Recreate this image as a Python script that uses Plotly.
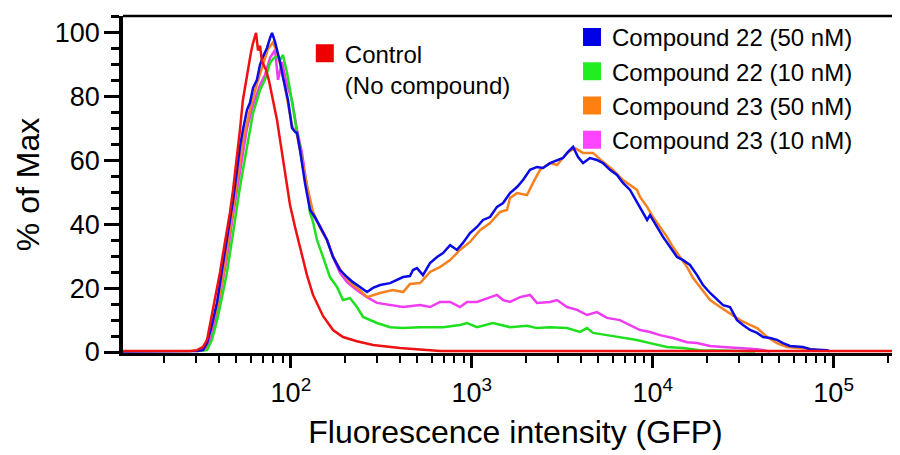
import plotly.graph_objects as go

# ---------------- data (fluorescence intensity, % of max) ----------------
red_x = [11.8, 27.7, 30.3, 32.7, 34.4, 35.7, 37.1, 39.1, 40.6, 42.2,
         44.3, 46.0, 47.9, 50.4, 52.3, 54.3, 56.5, 57.9, 60.2, 61.8,
         64.2, 65.8, 67.5, 69.2, 71.0, 72.8, 75.7, 79.6, 83.8, 87.1,
         91.6, 95.2, 98.9, 105.4, 112.3, 122.7, 132.5, 150.5, 170.9, 194.1,
         231.7, 284.4, 400.9, 587.5, 666.8, 260000]
red_y = [0.3, 0.3, 0.6, 1.6, 3.8, 8.5, 13.8, 19.4, 25.1, 31.0,
         37.6, 43.6, 50.8, 61.1, 69.6, 79.0, 85.3, 89.3, 94.0, 96.9,
         100, 94.5, 96.0, 91.0, 89.5, 88.5, 85.0, 79.0, 72.7, 66.5,
         58.6, 51.7, 46.1, 39.2, 32.6, 24.1, 17.9, 11.3, 6.9, 4.7,
         3.4, 2.2, 1.3, 0.6, 0.3, 0.3]

blue_x = [11.8, 30.3, 32.7, 34.4, 36.6, 39.1, 41.6, 44.3, 47.9, 50.4,
          52.3, 54.3, 57.2, 59.4, 61.8, 64.9, 67.5, 70.1, 73.8, 76.7,
          78.7, 81.7, 83.8, 87.1, 90.4, 96.4, 101.4, 105.4, 108.1, 112.3,
          119.6, 127.6, 135.9, 144.8, 158.4, 170.9, 186.9, 204.2, 220.4, 241.0,
          263.5, 284.4, 311.1, 353.2, 386.4, 416.9, 455.0, 473.2, 497.7, 537.0,
          587.5, 642.7, 693.4, 758.6, 828.2, 893.5, 977.2, 1068, 1153, 1261,
          1378, 1489, 1626, 1778, 1919, 2098, 2291, 2475, 2705, 2958,
          3192, 3404, 3629, 3865, 4121, 4498, 4918, 5309, 5802, 6349,
          6849, 7491, 8185, 8831, 9311, 9661, 10570, 11400, 12470, 13620,
          14720, 16070, 17580, 18970, 20750, 22700, 24490, 26730, 29240, 31550,
          34510, 37740, 40740, 44530, 48640, 52480, 57390, 67710, 74100, 92000,
          95500]
blue_y = [0.2, 0.3, 0.6, 2.8, 8.5, 15.7, 25.7, 35.1, 47.6, 57.1,
          64.3, 69.6, 75.9, 78.1, 82.8, 85.3, 90.0, 92.5, 95.3, 98.4,
          100, 97.2, 94.7, 90.9, 86.2, 79.0, 70.2, 69.0, 68.7, 63.3,
          53.0, 44.5, 42.3, 39.5, 35.1, 29.8, 25.7, 23.5, 21.9, 20.4,
          18.8, 20.1, 21.0, 21.6, 22.6, 23.5, 23.8, 25.7, 26.3, 24.1,
          27.9, 29.8, 31.0, 33.5, 32.0, 34.2, 37.3, 39.2, 41.4, 42.3,
          45.5, 46.7, 49.8, 51.7, 53.9, 57.1, 58.0, 57.7, 59.2, 60.2,
          60.8, 62.7, 64.3, 61.1, 59.2, 60.8, 60.2, 59.2, 57.1, 55.5,
          53.0, 50.8, 47.0, 43.6, 41.4, 42.9, 39.2, 36.1, 32.9, 29.8,
          28.8, 27.3, 24.1, 21.0, 18.5, 16.3, 14.7, 14.1, 10.0, 8.5,
          6.9, 6.0, 4.7, 4.4, 3.8, 2.8, 1.9, 1.6, 0.9, 0.6,
          0.2]

orange_x = [30.3, 33.5, 35.7, 39.1, 42.2, 46.0, 50.4, 54.3, 59.4, 64.9,
            70.1, 74.7, 79.6, 83.8, 89.3, 95.2, 101.4, 108.1, 115.2, 122.7,
            132.5, 144.8, 158.4, 170.9, 186.9, 204.2, 220.4, 241.0, 263.5, 311.1,
            366.4, 416.9, 455.0, 517.6, 587.5, 666.8, 758.6, 860.3, 977.2, 1110,
            1261, 1432, 1565, 1626, 1778, 2018, 2179, 2382, 2705, 2958,
            3357, 3722, 4121, 4677, 5309, 6034, 6849, 7491, 8185, 8511,
            9311, 10040, 10960, 11990, 12940, 14160, 15490, 16710, 18280, 20750,
            23550, 26730, 30400, 34510, 37740, 42850, 48640, 55210, 65160, 76910,
            84140]
orange_y = [0.3, 1.0, 6.0, 14, 24, 38, 54, 66, 76, 84,
            90, 95, 97, 94, 88, 80, 71, 68, 60, 52,
            44, 39, 35, 30, 26, 23, 21.0, 19.4, 17.2, 18.5,
            19.4, 18.8, 21.3, 21.6, 25.1, 26.6, 28.8, 32.0, 34.5, 38.2,
            40.4, 43.9, 44.5, 48.3, 49.8, 49.2, 53.0, 57.1, 59.2, 58.6,
            62.4, 63.9, 62.4, 62.4, 59.6, 57.1, 53.9, 52.4, 50.8, 48.6,
            45.5, 42.3, 39.2, 36.1, 32.9, 29.8, 26.6, 23.2, 20.4, 16.3,
            14.1, 12.2, 10.0, 8.5, 7.5, 4.7, 2.8, 1.6, 1.3, 0.9,
            0.2]

green_x = [30.3, 34.4, 36.6, 39.1, 41.6, 44.3, 47.9, 52.3, 57.2, 61.8,
           67.5, 71.9, 76.7, 80.7, 83.8, 87.1, 90.4, 95.2, 98.9, 102.6,
           108.1, 112.3, 116.7, 122.7, 127.6, 132.5, 139.4, 150.5, 164.4, 179.8,
           194.1, 212.3, 231.7, 250.6, 299.2, 353.2, 416.9, 517.6, 693.4, 860.3,
           941.3, 1068, 1310, 1626, 2018, 2291, 2705, 3357, 3963, 4335,
           4677, 5582, 6587, 8185, 9661, 11990, 14720, 18280, 26730, 36780]
green_y = [0.3, 0.6, 3.8, 10.0, 17.2, 24.8, 37.3, 51.7, 64.3, 74.9,
           82.1, 85.3, 90.6, 92.2, 92.5, 91.5, 93.1, 87.5, 82.1, 75.9,
           68.7, 64.3, 58.0, 52.4, 43.6, 40.8, 35.1, 29.8, 23.5, 20.4,
           16.3, 16.9, 14.1, 11.0, 9.1, 7.8, 7.5, 7.8, 7.8, 8.5,
           9.1, 7.8, 9.1, 7.8, 8.2, 7.5, 7.8, 7.5, 6.3, 7.5,
           6.0, 5.3, 4.7, 3.8, 2.8, 1.6, 1.3, 0.6, 0.4, 0.2]

magenta_x = [30.3, 34.4, 36.6, 39.1, 41.6, 44.3, 47.9, 52.3, 57.2, 61.8,
             67.5, 71.9, 76.7, 81.7, 84.9, 89.3, 95.2, 101.4, 108.1, 115.2,
             122.7, 132.5, 144.8, 158.4, 170.9, 186.9, 204.2, 231.7, 263.5, 299.2,
             353.2, 416.9, 517.6, 587.5, 666.8, 758.6, 860.3, 941.3, 1068, 1213,
             1378, 1489, 1626, 1848, 2098, 2291, 2705, 2958, 3357, 3818,
             4335, 4918, 5582, 6587, 7491, 8511, 9661, 10960, 12940, 15490,
             17580, 20750, 24490, 30400, 37740, 44530]
magenta_y = [0.3, 1.3, 5.3, 12.5, 21.0, 29.5, 43.0, 57.1, 70.2, 77.4,
             83.7, 86.8, 92.2, 94.7, 85.3, 90.9, 83.7, 79.0, 69.6, 62.4,
             51.7, 42.9, 39.5, 35.1, 29.8, 24.8, 21.9, 19.4, 17.2, 15.4,
             14.7, 14.1, 14.7, 14.1, 15.7, 15.7, 14.1, 15.7, 15.7, 16.9,
             17.9, 16.3, 15.7, 17.2, 17.9, 15.4, 15.7, 16.3, 14.1, 13.2,
             11.6, 12.5, 10.7, 10.0, 8.5, 6.9, 6.3, 5.3, 4.4, 3.1,
             2.8, 1.9, 1.6, 1.3, 0.9, 0.2]

x_tick_vals = [1e2, 1e3, 1e4, 1e5]
x_tick_text = ["10<sup>2</sup>", "10<sup>3</sup>", "10<sup>4</sup>", "10<sup>5</sup>"]
x_minor_vals = [d * 10 ** e for e in range(1, 6) for d in range(2, 10)]
y_tick_vals = [0, 20, 40, 60, 80, 100]

series = [
    ("Compound 23 (10 nM)", magenta_x, magenta_y, "#f03cf0", "#ff44ff", "legend2"),
    ("Compound 22 (10 nM)", green_x, green_y, "#1fe01f", "#22ee22", "legend2"),
    ("Compound 23 (50 nM)", orange_x, orange_y, "#f5821f", "#ff8010", "legend2"),
    ("Compound 22 (50 nM)", blue_x, blue_y, "#0a0ae6", "#0000e6", "legend2"),
    ("Control<br>(No compound)", red_x, red_y, "#ee1111", "#ee0000", "legend"),
]
legend_order = ["Compound 22 (50 nM)", "Compound 22 (10 nM)",
                "Compound 23 (50 nM)", "Compound 23 (10 nM)",
                "Control<br>(No compound)"]

FONT = "Arial, Liberation Sans, Helvetica, sans-serif"

fig = go.Figure()
for name, xs, ys, lc, _, _ in series:
    fig.add_trace(go.Scatter(x=xs, y=ys, mode="lines", name=name,
                             line=dict(color=lc, width=2.5),
                             showlegend=False, hoverinfo="skip"))

# legend swatches (square keys)
lookup = {s[0]: s for s in series}
for name in legend_order:
    _, _, _, _, sc, lg = lookup[name]
    fig.add_trace(go.Scatter(x=[None], y=[None], mode="markers", name=name,
                             marker=dict(symbol="square", size=16, color=sc,
                                         line=dict(color=sc, width=2)),
                             legend=lg, showlegend=True))

# the page body keeps an 8 px default margin; the plot runs off the right edge
fig.update_layout(
    width=900, height=447,
    margin=dict(l=115, r=0, t=8, b=102),
    paper_bgcolor="white", plot_bgcolor="white",
    font=dict(family=FONT, color="black"),
    legend=dict(x=0.2316, y=0.955, xanchor="left", yanchor="top",
                bgcolor="rgba(0,0,0,0)", font=dict(size=24, family=FONT),
                valign="top", itemclick=False),
    legend2=dict(x=0.5720, y=1.003, xanchor="left", yanchor="top",
                 bgcolor="rgba(0,0,0,0)", font=dict(size=24, family=FONT),
                 tracegroupgap=0, itemclick=False),
    xaxis=dict(
        type="log", range=[1.072, 5.411], automargin=False,
        showline=True, linecolor="black", linewidth=3,
        showgrid=False, zeroline=False,
        ticks="outside", ticklen=12, tickwidth=3, tickcolor="black",
        tickmode="array", tickvals=x_tick_vals, ticktext=x_tick_text,
        tickfont=dict(size=27, family=FONT),
        ticklabelstandoff=2,
        minor=dict(tickmode="array", tickvals=x_minor_vals, ticks="outside",
                   ticklen=7, tickwidth=2, tickcolor="black", showgrid=False),
        title=dict(text="Fluorescence intensity (GFP)",
                   font=dict(size=32, family=FONT), standoff=14),
        layer="below traces",
    ),
    yaxis=dict(
        range=[-0.3, 105.3], automargin=False,
        showline=True, linecolor="black", linewidth=3.5,
        showgrid=False, zeroline=False,
        ticks="outside", ticklen=15, tickwidth=3, tickcolor="black",
        tickmode="array", tickvals=y_tick_vals,
        tickfont=dict(size=27, family=FONT),
        ticklabelstandoff=-1,
        minor=dict(dtick=5, ticks="outside", ticklen=8, tickwidth=2.5,
                   tickcolor="black", showgrid=False),
        title=dict(text="% of Max", font=dict(size=32, family=FONT), standoff=7),
        layer="below traces",
    ),
    shapes=[dict(type="line", xref="paper", yref="paper", x0=0, x1=1, y0=1, y1=1,
                 line=dict(color="black", width=2.5))],
)

fig.write_html("out.html")
